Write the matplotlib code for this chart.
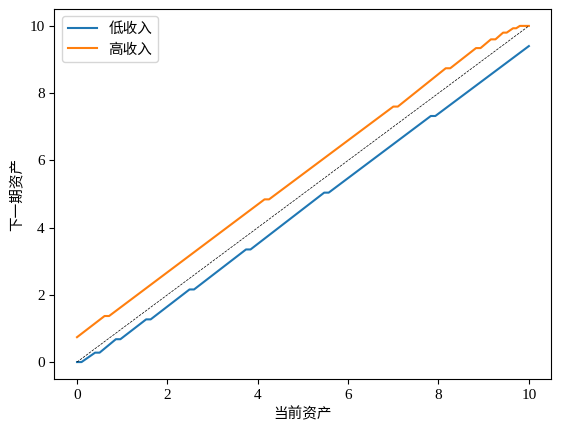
import matplotlib
matplotlib.use("Agg")
import matplotlib.pyplot as plt

plt.rcParams['font.family'] = ['Liberation Serif', 'Noto Sans CJK SC']
plt.rcParams['axes.unicode_minus'] = False

# ---------- 資料：轉折點 ----------
# 低收入：每個小平台的起點與終點
low_x = [0.0, 0.10, 0.40, 0.50, 0.86, 0.96, 1.53, 1.63, 2.49, 2.59,
         3.74, 3.84, 5.47, 5.57, 7.83, 7.93, 10.0]
low_y = [0.0, 0.00, 0.28, 0.28, 0.68, 0.68, 1.27, 1.27, 2.16, 2.16,
         3.35, 3.35, 5.04, 5.04, 7.32, 7.32, 9.40]

# 高收入
high_x = [0.0, 0.61, 0.71, 4.15, 4.25, 7.00, 7.10, 8.16, 8.26, 8.83, 8.93,
          9.16, 9.26, 9.43, 9.51, 9.65, 9.72, 9.80, 10.0]
high_y = [0.74, 1.37, 1.37, 4.84, 4.84, 7.60, 7.60, 8.74, 8.74, 9.34, 9.34,
          9.60, 9.60, 9.80, 9.80, 9.93, 9.93, 10.0, 10.0]

# 45 度線
diag = [0.0, 10.0]

fig, ax = plt.subplots(figsize=(5.61, 4.33), dpi=100)
fig.subplots_adjust(left=0.097, right=0.983, top=0.979, bottom=0.125)

ax.plot(low_x, low_y, color="#1f77b4", label="低收入")
ax.plot(high_x, high_y, color="#ff7f0e", label="高收入")
ax.plot(diag, diag, color="black", linestyle="--", linewidth=0.5)

ax.set_xlabel("当前资产", fontsize=10.5)
ax.set_ylabel("下一期资产", fontsize=10.5)
ax.set_xticks([0, 2, 4, 6, 8, 10])
ax.set_yticks([0, 2, 4, 6, 8, 10])
ax.tick_params(labelsize=11)
ax.legend(loc="upper left", fontsize=10.5)

plt.savefig("out.png", dpi=100)
